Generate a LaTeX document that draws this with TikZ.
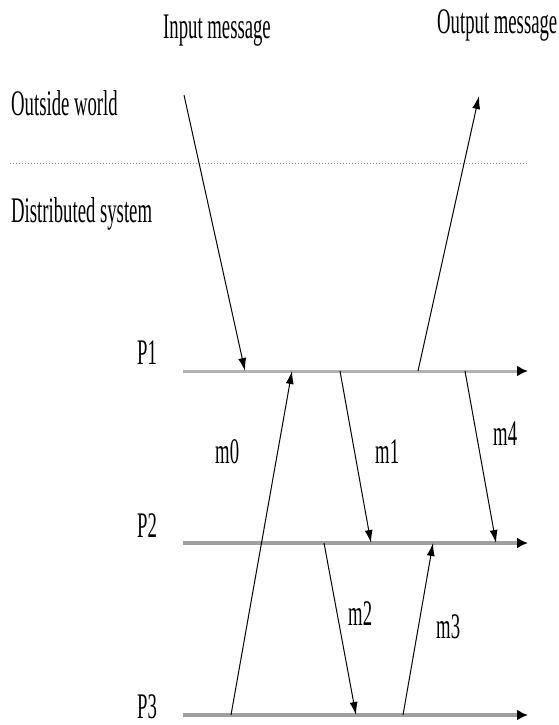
\documentclass[tikz,border=0pt]{standalone}
\usepackage{fontspec}
\setmainfont[FakeStretch=0.52]{Liberation Serif}
\usetikzlibrary{arrows.meta}
\tikzset{
  lbl/.style={inner sep=0pt, font=\fontsize{36}{36}\selectfont},
  procline/.style={draw=gray!75, line width=3.5pt, -{Latex[length=11pt,width=11pt,black]}},
  procthin/.style={draw=gray!60, line width=3pt, -{Latex[length=11pt,width=11pt,black]}},
  msg/.style={draw=black, line width=1pt, -{Latex[length=13pt,width=8pt]}},
  sep/.style={draw=gray, line width=1pt, dotted}
}
\begin{document}
\begin{tikzpicture}[x=1pt,y=-1pt]
\useasboundingbox (0,0) rectangle (559,725);
% texts
\node[lbl, anchor=base west] (tin) at (163,38) {Input message};
\node[lbl, anchor=base west] (tout) at (437,34) {Output message};
\node[lbl, anchor=base west] (tow) at (11,115) {Outside world};
\node[lbl, anchor=base west] (tds) at (11,222) {Distributed system};
\node[lbl, anchor=base west] (lp1) at (137,364) {P1};
\node[lbl, anchor=base west] (lp2) at (137,537) {P2};
\node[lbl, anchor=base west] (lp3) at (137,718) {P3};
\node[lbl, anchor=base west] (lm0) at (215,463) {m0};
\node[lbl, anchor=base west] (lm1) at (375,463) {m1};
\node[lbl, anchor=base west] (lm4) at (493,445) {m4};
\node[lbl, anchor=base west] (lm2) at (348,625) {m2};
\node[lbl, anchor=base west] (lm3) at (436,638) {m3};
% separator
\coordinate (s1) at (10,163);
\coordinate (s2) at (528,163);
\draw[sep] (s1) -- (s2);
% process lines
\coordinate (p1s) at (183,371);
\coordinate (p1e) at (528,371);
\coordinate (p2s) at (183,543);
\coordinate (p2e) at (528,543);
\coordinate (p3s) at (183,715);
\coordinate (p3e) at (528,715);
\draw[procthin] (p1s) -- (p1e);
\draw[procline] (p2s) -- (p2e);
\draw[procline] (p3s) -- (p3e);
% message end points
\coordinate (inS) at (184,95);
\coordinate (inE) at (245,371);
\coordinate (outS) at (418,371);
\coordinate (outE) at (479,96);
\coordinate (m0S) at (231,715);
\coordinate (m0E) at (292,371);
\coordinate (m1S) at (340,371);
\coordinate (m1E) at (371,543);
\coordinate (m4S) at (465,371);
\coordinate (m4E) at (496,543);
\coordinate (m2S) at (324,543);
\coordinate (m2E) at (356,715);
\coordinate (m3S) at (403,715);
\coordinate (m3E) at (433,543);
\draw[msg] (inS) -- (inE);
\draw[msg] (outS) -- (outE);
\draw[msg] (m0S) -- (m0E);
\draw[msg] (m1S) -- (m1E);
\draw[msg] (m4S) -- (m4E);
\draw[msg] (m2S) -- (m2E);
\draw[msg] (m3S) -- (m3E);
\end{tikzpicture}
\end{document}
